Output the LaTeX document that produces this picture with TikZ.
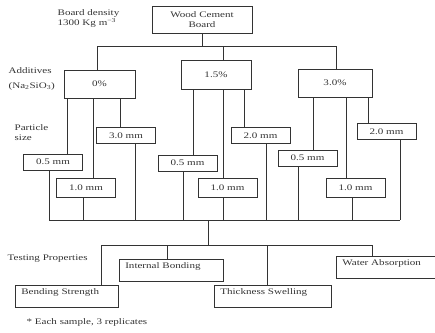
\documentclass[tikz,border=0pt]{standalone}
\usepackage{fontspec}
\setmainfont{Liberation Serif}[FakeStretch=1.3]
\usepackage{tikz}
\usetikzlibrary{shapes}

\begin{document}
\begin{tikzpicture}[x=1pt,y=-1pt,line width=0.6pt,color=black!80,
  every node/.style={font=\fontsize{8.5}{10}\selectfont},
  box/.style={draw,inner sep=2pt},
  addbox/.style={box,minimum width=71pt,minimum height=28pt},
  sizebox/.style={box,minimum width=59pt,minimum height=16pt},
  tallbox/.style={sizebox,minimum height=19pt},
  testbox/.style={box,anchor=north west,align=left,text width=#1,text height=7pt,text depth=11pt,inner xsep=6pt},
  txt/.style={anchor=west,align=left}]
\useasboundingbox (0,0) rectangle (435,332);
\begin{scope}
\clip (0,0) rectangle (435,332);

\node[box,align=center,minimum width=100pt,minimum height=27pt] (wcb) at (202,19.5) {Wood Cement\\Board};
\node[txt] (density) at (54,18) {Board density\\1300 Kg m\textsuperscript{−3}};

\node[txt] (additives) at (5,79) {Additives\\[5pt](Na\textsubscript{2}SiO\textsubscript{3})};
\node[addbox] (add0) at (99.5,84) {0\%};
\node[addbox,minimum width=70pt,minimum height=29pt] (add15) at (216,74.5) {1.5\%};
\node[addbox,minimum width=74pt] (add30) at (335,83) {3.0\%};

\node[txt] (particle) at (11,133) {Particle\\size};
\node[sizebox] (pa1) at (53,162) {0.5 mm};
\node[tallbox] (pa2) at (86,187.5) {1.0 mm};
\node[sizebox] (pa3) at (126,135.5) {3.0 mm};
\node[sizebox] (pb1) at (187.5,163) {0.5 mm};
\node[tallbox] (pb2) at (227.5,187.5) {1.0 mm};
\node[sizebox] (pb3) at (260.5,135.5) {2.0 mm};
\node[sizebox] (pc1) at (307.5,158) {0.5 mm};
\node[tallbox] (pc2) at (355.5,188) {1.0 mm};
\node[sizebox] (pc3) at (386.5,131.5) {2.0 mm};

\node[txt] (testing) at (4,259) {Testing Properties};
\node[testbox=91pt] (bs) at (15,285) {Bending Strength};
\node[testbox=92pt] (ib) at (119,259) {Internal Bonding};
\node[testbox=105pt] (ts) at (214,285) {Thickness Swelling};
\node[testbox=92pt] (wa) at (336,256) {Water Absorption};
\node[txt] (note) at (23,322) {* Each sample, 3 replicates};

% board -> additives
\coordinate (busAl) at (97,46);
\coordinate (busAr) at (336,46);
\draw (wcb.south) -- (wcb.south |- busAl);
\draw (busAl) -- (busAr);
\foreach \x/\n in {97/add0,223/add15,336/add30}
  \draw (\x,0 |- busAl) -- (\x,0 |- \n.north);

% additives -> particle size
\foreach \x/\p/\q in {67/add0/pa1,93/add0/pa2,120/add0/pa3,
    193/add15/pb1,223/add15/pb2,244/add15/pb3,
    313/add30/pc1,346/add30/pc2,368/add30/pc3}
  \draw (\x,0 |- \p.south) -- (\x,0 |- \q.north);

% particle size -> testing
\coordinate (busBl) at (49,220);
\coordinate (busBr) at (400,220);
\draw (busBl) -- (busBr);
\foreach \x/\n in {49/pa1,83/pa2,135/pa3,183/pb1,223/pb2,266/pb3,298/pc1,352/pc2,400/pc3}
  \draw (\x,0 |- \n.south) -- (\x,0 |- busBl);
\coordinate (busCl) at (101,245);
\coordinate (busCr) at (372,245);
\draw (208,0 |- busBl) -- (208,0 |- busCl);
\draw (busCl) -- (busCr);
\foreach \x/\n in {101/bs,167/ib,267/ts,372/wa}
  \draw (\x,0 |- busCl) -- (\x,0 |- \n.north);
\end{scope}
\end{tikzpicture}
\end{document}
